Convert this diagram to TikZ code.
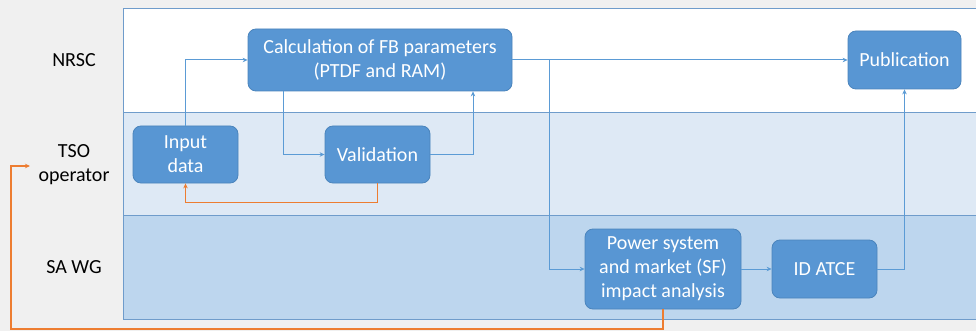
\documentclass[tikz,border=0pt]{standalone}
\usepackage{fontspec}
\setmainfont{Carlito}
\usetikzlibrary{arrows.meta}
\definecolor{bgg}{HTML}{F0F0F0}
\definecolor{laneA}{HTML}{FFFFFF}
\definecolor{laneB}{HTML}{DEE9F5}
\definecolor{laneC}{HTML}{BDD6EE}
\definecolor{laneline}{HTML}{6F9CCB}
\definecolor{boxfill}{HTML}{5896D3}
\definecolor{boxline}{HTML}{4A84BC}
\definecolor{arrb}{HTML}{5B9BD5}
\definecolor{arro}{HTML}{ED7D31}
\tikzset{
  box/.style={draw=boxline, line width=0.8pt, fill=boxfill, rounded corners=8pt, text=white, align=center, font=\fontsize{20}{24}\selectfont, inner sep=0pt},
  lane/.style={draw=laneline, line width=0.9pt},
  lanelabel/.style={align=center, font=\fontsize{20}{24}\selectfont, text=black},
  barrow/.style={draw=arrb, line width=1pt, -{Stealth[length=5pt,width=4.5pt]}},
  oarrow/.style={draw=arro, line width=1.2pt, -{Stealth[length=5pt,width=4.5pt]}}
}
\begin{document}
\begin{tikzpicture}[x=1pt,y=-1pt]
\useasboundingbox (0,0) rectangle (976,331);
\fill[bgg] (0,0) rectangle (976,331);
% lanes
\path[lane, fill=laneA] (123,8) rectangle (980,112);
\path[lane, fill=laneB] (123,112) rectangle (980,215);
\path[lane, fill=laneC] (123,215) rectangle (980,319);
% lane labels
\node[lanelabel] (lNRSC) at (74,60) {NRSC};
\node[lanelabel] (lTSO) at (74,165) {TSO\\operator};
\node[lanelabel] (lSA) at (74,267) {SA WG};
% boxes
\node[box, minimum width=264pt, minimum height=62pt] (calc) at (380,60) {Calculation of FB parameters\\(PTDF and RAM)};
\node[box, minimum width=105pt, minimum height=57pt] (input) at (185.5,154.5) {Input\\data};
\node[box, minimum width=105pt, minimum height=57pt] (valid) at (377.5,154.5) {Validation};
\node[box, minimum width=113pt, minimum height=58pt] (pub) at (904.5,60) {Publication};
\node[box, minimum width=156pt, minimum height=80pt] (power) at (663,269) {Power system\\and market (SF)\\impact analysis};
\node[box, minimum width=105pt, minimum height=58pt] (atce) at (824.5,269) {ID ATCE};
% coordinates
\coordinate (branch) at (549,60);
\coordinate (tsoarrow) at (30,166);
% blue connectors
\draw[barrow] (input.north) |- (calc.west);
\draw[barrow] (calc.south -| 283,0) |- (valid.west);
\draw[barrow] (valid.east) -| (calc.south -| 473,0);
\draw[barrow] (calc.east) -- (pub.west);
\draw[barrow] (branch) |- (power.west);
\draw[barrow] (power.east) -- (atce.west);
\draw[barrow] (atce.east) -| (pub.south);
% orange connectors
\draw[oarrow] (valid.south) -- ++(0,19) -| (input.south);
\draw[oarrow] (power.south) -- (663,329) -- (11,329) |- (tsoarrow);
\end{tikzpicture}
\end{document}
